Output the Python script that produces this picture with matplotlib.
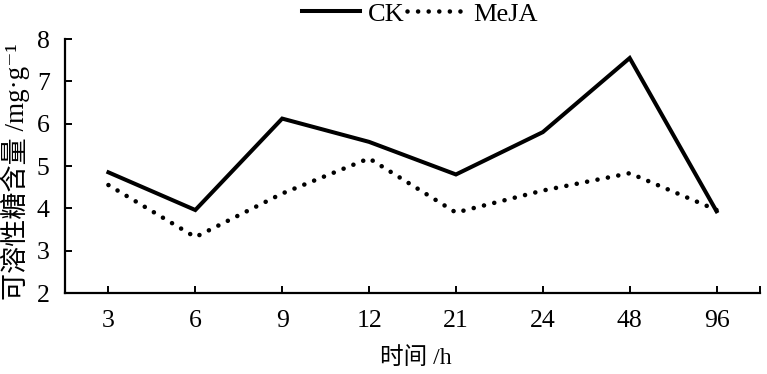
import matplotlib
matplotlib.use("Agg")
import matplotlib.pyplot as plt

plt.rcParams['font.family'] = ['Liberation Serif', 'Noto Sans CJK SC', 'DejaVu Serif']

# data
hours = ['3', '6', '9', '12', '21', '24', '48', '96']
ck = [4.85, 3.96, 6.12, 5.57, 4.80, 5.80, 7.55, 3.93]
meja = [4.55, 3.32, 4.35, 5.18, 3.90, 4.42, 4.83, 3.96]

fig = plt.figure(figsize=(7.67, 3.74), dpi=100)
ax = fig.add_axes([65 / 767, 1 - 293 / 374, 695 / 767, 254 / 374])

x = list(range(len(hours)))
ax.plot(x, ck, color='black', lw=2.9, solid_joinstyle='miter', label='CK')
ax.plot(x, meja, color='black', lw=3.3, linestyle=(0, (0.01, 2.3)),
        dash_capstyle='round', label='MeJA')

ax.set_xlim(-0.5, len(hours) - 0.5)
ax.set_ylim(2, 8)
ax.set_xticks(x)
ax.set_xticklabels(hours)
ax.set_xticks([len(hours) - 0.5], minor=True)
ax.set_yticks(range(2, 9))

for s in ['top', 'right']:
    ax.spines[s].set_visible(False)
for s in ['left', 'bottom']:
    ax.spines[s].set_linewidth(1.6)

ax.tick_params(axis='both', which='both', direction='in', length=5, width=1.4,
               labelsize=18.5, color='black')
ax.tick_params(axis='x', pad=12)
ax.tick_params(axis='y', pad=11)

fig.text(416 / 767, 1 - 358 / 374, '时间 /h', ha='center', va='center', fontsize=17)
fig.text(15 / 767, 1 - 300 / 374, '可溶性糖含量 /mg·g⁻¹', rotation=90,
         ha='center', va='bottom', fontsize=19.5)

leg = ax.legend(loc='center', bbox_to_anchor=(420 / 767, 1 - 14 / 374),
                bbox_transform=fig.transFigure, ncol=2, frameon=False,
                fontsize=19, handlelength=2.2, handletextpad=0.3,
                columnspacing=0.1, borderpad=0)

fig.savefig('out.png', dpi=100)
